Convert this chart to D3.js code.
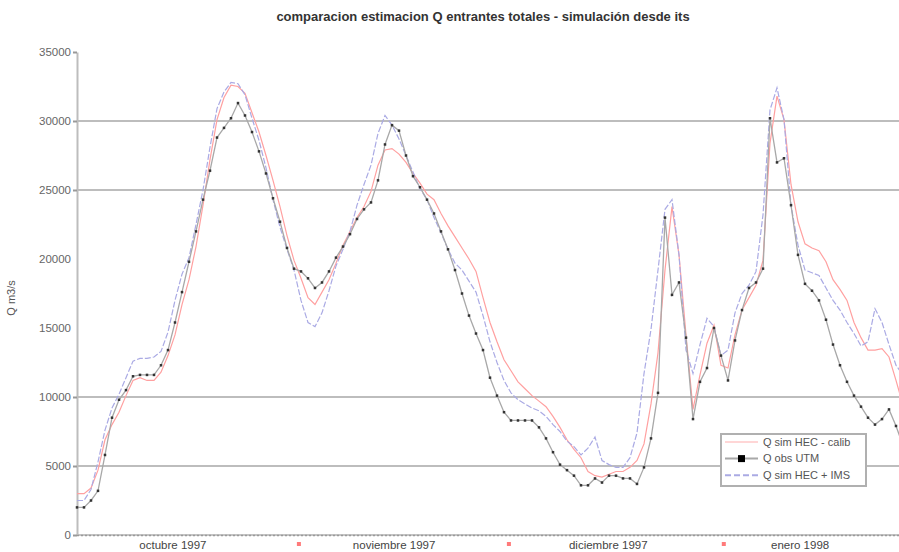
<!DOCTYPE html>
<html>
<head>
<meta charset="utf-8">
<script src="https://cdn.jsdelivr.net/npm/d3@7"></script>
<style>
  body { margin: 0; background: #fff; }
  svg { display: block; font-family: "Liberation Sans", Arial, sans-serif; }
</style>
</head>
<body>
<div id="chart"></div>
<script>
// daily series, starting 30 sep 1997 (m3/s)
const qObs = [
  2000, 2000, 2500, 3200, 5800, 8500, 9800, 10500, 11500, 11600,
  11600, 11600, 12300, 13400, 15400, 17600, 19800, 22000, 24300, 26400,
  28800, 29500, 30200, 31300, 30400, 29200, 27800, 26200, 24400, 22700,
  20800, 19300, 19100, 18600, 17900, 18300, 19100, 20100, 20900, 21800,
  22900, 23600, 24100, 25700, 28300, 29700, 29300, 27500, 26000, 25200,
  24300, 23300, 22000, 20700, 19200, 17500, 15900, 14600, 13400, 11400,
  10100, 8900, 8300, 8300, 8300, 8300, 7800, 7000, 6000, 5100,
  4700, 4300, 3600, 3600, 4100, 3800, 4300, 4300, 4100, 4100,
  3700, 4900, 7000, 10300, 23000, 17400, 18300, 14300, 8400, 11100,
  12100, 15000, 13000, 11200, 14100, 16300, 17900, 18300, 19300, 30200,
  27000, 27300, 23900, 20300, 18200, 17700, 17000, 15600, 13800, 12300,
  11100, 10100, 9300, 8500, 8000, 8400, 9100, 7900, 6500
]

const qSimCalib = [
  3000, 3000, 3400, 4700, 6900, 8000, 8900, 10100, 11200, 11400,
  11200, 11200, 11800, 13000, 14500, 16700, 18500, 20900, 23900, 27200,
  30100, 31700, 32600, 32500, 32000, 30600, 29200, 27500, 25700, 23800,
  21700, 19900, 18600, 17200, 16700, 17600, 18500, 19700, 21000, 22000,
  23000, 23800, 24900, 26800, 27900, 28000, 27600, 27000, 26200, 25500,
  24700, 24300, 23300, 22400, 21600, 20800, 20000, 19100, 17200, 15400,
  14000, 12700, 11900, 11100, 10600, 10100, 9700, 9300, 8600, 7800,
  6900, 6200, 5600, 4600, 4300, 4200, 4400, 4600, 4600, 4900,
  5400, 6600, 9500, 13200, 19200, 23800, 20300, 14500, 9100, 11600,
  13900, 15200, 12300, 12100, 14500, 16300, 17200, 18100, 19900, 28400,
  31800, 30100, 25400, 22700, 21100, 20800, 20600, 19800, 18500, 17800,
  17000, 15400, 14300, 13400, 13400, 13500, 12900, 11200, 9400
]

const qSimIms = [
  2500, 2500, 3300, 5300, 7600, 9200, 10200, 11400, 12600, 12800,
  12800, 12900, 13300, 14700, 17000, 18900, 20100, 22500, 25000, 28100,
  30900, 32100, 32800, 32700, 31900, 30200, 28600, 26600, 24300, 22300,
  20700, 19200, 17000, 15400, 15100, 16100, 17700, 19500, 20700, 22000,
  23900, 25400, 26800, 29100, 30400, 29700, 28700, 27500, 26300, 25100,
  24300, 23000, 21900, 20700, 19700, 19200, 18400, 17600, 15900, 14000,
  12500, 11200, 10300, 9800, 9500, 9200, 9000, 8600, 8000, 7500,
  6800, 6400, 5800, 6300, 7100, 5400, 5100, 4900, 4900, 5600,
  7400, 11700, 14900, 19200, 23600, 24300, 20300, 13400, 11700, 13800,
  15700, 15100, 13000, 13400, 16100, 17500, 18100, 19100, 23200, 30800,
  32400, 30100, 23900, 21000, 19200, 19000, 18800, 17900, 17000, 16300,
  15400, 14600, 13700, 14000, 16400, 15400, 13800, 12300, 11600
]

const seriesNames = ["Q sim HEC - calib", "Q obs UTM", "Q sim HEC + IMS"]

const yTicks = [0, 5000, 10000, 15000, 20000, 25000, 30000, 35000]
const yGrid = [5000, 10000, 25000, 30000]

// day index of the month labels and of the month starts
const monthLabels = ["octubre 1997", "noviembre 1997", "diciembre 1997", "enero 1998"]
const monthLabelPos = [13.7, 45.3, 75.9, 103.3]
const monthStartPos = [31.7, 61.7, 92.4]

const width = 899
const height = 552

const x = d3.scaleLinear()
    .domain([0, 118])
    .range([77, 903])

const y = d3.scaleLinear()
    .domain([0, 35000])
    .range([535, 52])

const svg = d3.select("#chart")
    .append("svg")
    .attr("width", width)
    .attr("height", height)

svg.append("text")
    .attr("x", 483)
    .attr("y", 21)
    .attr("text-anchor", "middle")
    .attr("font-size", 13)
    .attr("font-weight", "bold")
    .attr("fill", "#333")
    .text("comparacion estimacion Q entrantes totales - simulación desde its")

// grid
svg.append("g")
    .attr("stroke", "#bdbdbd")
    .attr("stroke-width", 2)
    .selectAll("line")
    .data(yGrid)
    .join("line")
    .attr("x1", 77)
    .attr("x2", width)
    .attr("y1", d => y(d))
    .attr("y2", d => y(d))

// y axis
const yAxis = svg.append("g")
    .attr("transform", "translate(77,0)")
    .call(d3.axisLeft(y).tickValues(yTicks).tickSize(0).tickPadding(6).tickFormat(d3.format("d")))
yAxis.select(".domain").attr("stroke", "#bdbdbd").attr("stroke-width", 2)
yAxis.selectAll("text")
    .attr("font-size", 11.5)
    .attr("font-family", "Liberation Sans, Arial, sans-serif")
    .attr("fill", "#666")
yAxis.selectAll(".tick")
    .filter(d => yGrid.includes(d) || d === 0 || d === 35000)
    .append("line")
    .attr("x1", -4)
    .attr("x2", 0)
    .attr("stroke", "#999")
    .attr("stroke-width", 2)

svg.append("text")
    .attr("transform", "translate(15,298) rotate(-90)")
    .attr("text-anchor", "middle")
    .attr("font-size", 11)
    .attr("fill", "#555")
    .text("Q m3/s")

// x axis (category style, dense ticks)
svg.append("line")
    .attr("x1", 77).attr("x2", width)
    .attr("y1", y(0)).attr("y2", y(0))
    .attr("stroke", "#c4c4c4")
    .attr("stroke-width", 2)
svg.append("line")
    .attr("x1", 77).attr("x2", width)
    .attr("y1", y(0) + 0.5).attr("y2", y(0) + 0.5)
    .attr("stroke", "#9a9a9a")
    .attr("stroke-width", 1.5)
    .attr("stroke-dasharray", "2,2")

svg.append("g")
    .selectAll("text")
    .data(monthLabels)
    .join("text")
    .attr("x", (d, i) => x(monthLabelPos[i]))
    .attr("y", 549)
    .attr("text-anchor", "middle")
    .attr("font-size", 11.5)
    .attr("fill", "#444")
    .text(d => d)

svg.append("g")
    .attr("fill", "#ff7a7a")
    .selectAll("rect")
    .data(monthStartPos)
    .join("rect")
    .attr("x", d => x(d) - 2)
    .attr("y", 542)
    .attr("width", 4)
    .attr("height", 4)

// series
const line = d3.line()
    .x((d, i) => x(i))
    .y(d => y(d))

svg.append("path")
    .datum(qSimCalib)
    .attr("fill", "none")
    .attr("stroke", "#ffa0a0")
    .attr("stroke-width", 1.2)
    .attr("d", line)

svg.append("path")
    .datum(qSimIms)
    .attr("fill", "none")
    .attr("stroke", "#aaaae4")
    .attr("stroke-width", 1.2)
    .attr("stroke-dasharray", "6,2")
    .attr("d", line)

svg.append("path")
    .datum(qObs)
    .attr("fill", "none")
    .attr("stroke", "#a8a8a8")
    .attr("stroke-width", 1.3)
    .attr("d", line)

svg.append("g")
    .attr("fill", "#333")
    .selectAll("rect")
    .data(qObs)
    .join("rect")
    .attr("x", (d, i) => x(i) - 1.25)
    .attr("y", d => y(d) - 1.25)
    .attr("width", 2.5)
    .attr("height", 2.5)

// legend
const legend = svg.append("g")
    .attr("transform", "translate(721,434)")

legend.append("rect")
    .attr("width", 145)
    .attr("height", 52)
    .attr("fill", "white")
    .attr("stroke", "#b0b0b0")
    .attr("stroke-width", 2)

const legendStyles = [
    { stroke: "#ffd6d6", dash: null, marker: false },
    { stroke: "#a8a8a8", dash: null, marker: true },
    { stroke: "#aaaae4", dash: "6,3", marker: false }
]

const legendRows = legend.selectAll("g")
    .data(seriesNames)
    .join("g")
    .attr("transform", (d, i) => `translate(0,${8 + i * 16.6})`)

legendRows.append("line")
    .attr("x1", 4)
    .attr("x2", 37)
    .attr("stroke", (d, i) => legendStyles[i].stroke)
    .attr("stroke-width", 2)
    .attr("stroke-dasharray", (d, i) => legendStyles[i].dash)

legendRows.filter((d, i) => legendStyles[i].marker)
    .append("rect")
    .attr("x", 17)
    .attr("y", -3.5)
    .attr("width", 7)
    .attr("height", 7)
    .attr("fill", "#000")

legendRows.append("text")
    .attr("x", 42)
    .attr("dy", "0.35em")
    .attr("font-size", 11)
    .attr("fill", "#555")
    .text(d => d)
</script>
</body>
</html>
